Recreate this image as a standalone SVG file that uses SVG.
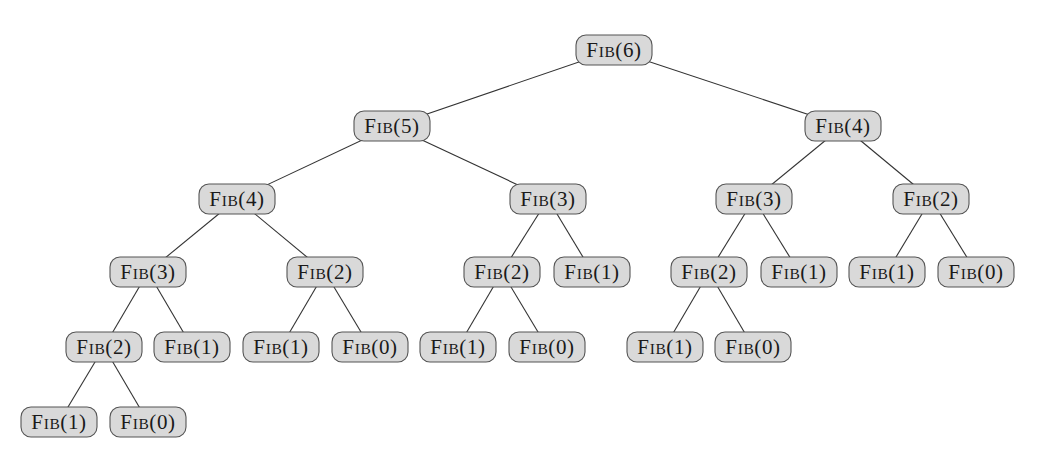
<svg xmlns="http://www.w3.org/2000/svg" width="1039" height="464" viewBox="0 0 1039 464">
<style>
.box{fill:#d9d9d9;stroke:#555;stroke-width:1.1}
.lbl{font-family:"Liberation Serif","Times New Roman",serif;font-size:21px;fill:#1a1a1a;text-anchor:middle;letter-spacing:0.6px}
.sc{font-size:15.5px}
.e{stroke:#333;stroke-width:1.1;fill:none}
</style>
<defs>
<rect id="b" x="-38" y="-15" width="76" height="30" rx="10" ry="10" class="box"/>
</defs>
<g id="connectors">
<line class="e" x1="614" y1="50" x2="392" y2="126"/>
<line class="e" x1="614" y1="50" x2="843" y2="126"/>
<line class="e" x1="392" y1="126" x2="237" y2="199"/>
<line class="e" x1="392" y1="126" x2="548" y2="199"/>
<line class="e" x1="843" y1="126" x2="754" y2="199"/>
<line class="e" x1="843" y1="126" x2="931" y2="199"/>
<line class="e" x1="237" y1="199" x2="148" y2="272"/>
<line class="e" x1="237" y1="199" x2="325" y2="272"/>
<line class="e" x1="548" y1="199" x2="502" y2="272"/>
<line class="e" x1="548" y1="199" x2="592" y2="272"/>
<line class="e" x1="754" y1="199" x2="709" y2="272"/>
<line class="e" x1="754" y1="199" x2="799" y2="272"/>
<line class="e" x1="931" y1="199" x2="887" y2="272"/>
<line class="e" x1="931" y1="199" x2="976" y2="272"/>
<line class="e" x1="148" y1="272" x2="104" y2="347"/>
<line class="e" x1="148" y1="272" x2="192" y2="347"/>
<line class="e" x1="325" y1="272" x2="281" y2="347"/>
<line class="e" x1="325" y1="272" x2="370" y2="347"/>
<line class="e" x1="502" y1="272" x2="458" y2="347"/>
<line class="e" x1="502" y1="272" x2="547" y2="347"/>
<line class="e" x1="709" y1="272" x2="665" y2="347"/>
<line class="e" x1="709" y1="272" x2="753" y2="347"/>
<line class="e" x1="104" y1="347" x2="59" y2="422"/>
<line class="e" x1="104" y1="347" x2="148" y2="422"/>
</g>
<g id="n_fib6" transform="translate(614,50)"><use href="#b"/><text class="lbl" y="7">F<tspan class="sc">IB</tspan>(6)</text></g>
<g id="n_fib5" transform="translate(392,126)"><use href="#b"/><text class="lbl" y="7">F<tspan class="sc">IB</tspan>(5)</text></g>
<g id="n_fib4_r" transform="translate(843,126)"><use href="#b"/><text class="lbl" y="7">F<tspan class="sc">IB</tspan>(4)</text></g>
<g id="n_fib4_l" transform="translate(237,199)"><use href="#b"/><text class="lbl" y="7">F<tspan class="sc">IB</tspan>(4)</text></g>
<g id="n_fib3_a" transform="translate(548,199)"><use href="#b"/><text class="lbl" y="7">F<tspan class="sc">IB</tspan>(3)</text></g>
<g id="n_fib3_b" transform="translate(754,199)"><use href="#b"/><text class="lbl" y="7">F<tspan class="sc">IB</tspan>(3)</text></g>
<g id="n_fib2_a" transform="translate(931,199)"><use href="#b"/><text class="lbl" y="7">F<tspan class="sc">IB</tspan>(2)</text></g>
<g id="n_fib3_c" transform="translate(148,272)"><use href="#b"/><text class="lbl" y="7">F<tspan class="sc">IB</tspan>(3)</text></g>
<g id="n_fib2_b" transform="translate(325,272)"><use href="#b"/><text class="lbl" y="7">F<tspan class="sc">IB</tspan>(2)</text></g>
<g id="n_fib2_c" transform="translate(502,272)"><use href="#b"/><text class="lbl" y="7">F<tspan class="sc">IB</tspan>(2)</text></g>
<g id="n_fib1_a" transform="translate(592,272)"><use href="#b"/><text class="lbl" y="7">F<tspan class="sc">IB</tspan>(1)</text></g>
<g id="n_fib2_d" transform="translate(709,272)"><use href="#b"/><text class="lbl" y="7">F<tspan class="sc">IB</tspan>(2)</text></g>
<g id="n_fib1_b" transform="translate(799,272)"><use href="#b"/><text class="lbl" y="7">F<tspan class="sc">IB</tspan>(1)</text></g>
<g id="n_fib1_c" transform="translate(887,272)"><use href="#b"/><text class="lbl" y="7">F<tspan class="sc">IB</tspan>(1)</text></g>
<g id="n_fib0_a" transform="translate(976,272)"><use href="#b"/><text class="lbl" y="7">F<tspan class="sc">IB</tspan>(0)</text></g>
<g id="n_fib2_e" transform="translate(104,347)"><use href="#b"/><text class="lbl" y="7">F<tspan class="sc">IB</tspan>(2)</text></g>
<g id="n_fib1_d" transform="translate(192,347)"><use href="#b"/><text class="lbl" y="7">F<tspan class="sc">IB</tspan>(1)</text></g>
<g id="n_fib1_e" transform="translate(281,347)"><use href="#b"/><text class="lbl" y="7">F<tspan class="sc">IB</tspan>(1)</text></g>
<g id="n_fib0_b" transform="translate(370,347)"><use href="#b"/><text class="lbl" y="7">F<tspan class="sc">IB</tspan>(0)</text></g>
<g id="n_fib1_f" transform="translate(458,347)"><use href="#b"/><text class="lbl" y="7">F<tspan class="sc">IB</tspan>(1)</text></g>
<g id="n_fib0_c" transform="translate(547,347)"><use href="#b"/><text class="lbl" y="7">F<tspan class="sc">IB</tspan>(0)</text></g>
<g id="n_fib1_g" transform="translate(665,347)"><use href="#b"/><text class="lbl" y="7">F<tspan class="sc">IB</tspan>(1)</text></g>
<g id="n_fib0_d" transform="translate(753,347)"><use href="#b"/><text class="lbl" y="7">F<tspan class="sc">IB</tspan>(0)</text></g>
<g id="n_fib1_h" transform="translate(59,422)"><use href="#b"/><text class="lbl" y="7">F<tspan class="sc">IB</tspan>(1)</text></g>
<g id="n_fib0_e" transform="translate(148,422)"><use href="#b"/><text class="lbl" y="7">F<tspan class="sc">IB</tspan>(0)</text></g>
</svg>
